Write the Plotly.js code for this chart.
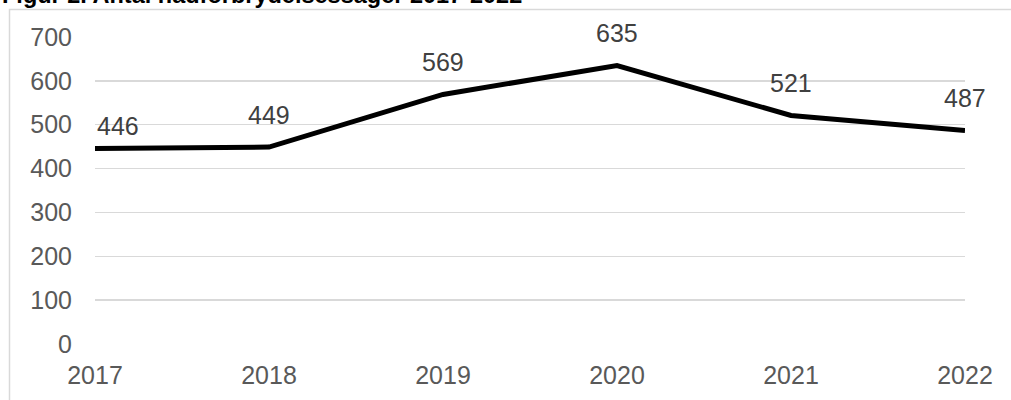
<!DOCTYPE html>
<html>
<head>
<meta charset="utf-8">
<script src="https://cdn.plot.ly/plotly-3.0.1.min.js"></script>
<style>
html, body { margin: 0; padding: 0; background: #fff; }
#chart { width: 1011px; height: 400px; }
</style>
</head>
<body>
<div id="chart"></div>
<script>
const years = [2017, 2018, 2019, 2020, 2021, 2022];
const cases = [446, 449, 569, 635, 521, 487];
const yTicks = [0, 100, 200, 300, 400, 500, 600, 700];
const titleText = "Figur 2. Antal hadforbrydelsessager 2017-2022";

const FONT = "Liberation Sans, Arial, sans-serif";

const trace = {
  x: years,
  y: cases,
  type: "scatter",
  mode: "lines",
  line: { color: "#000000", width: 5 },
  hoverinfo: "skip"
};

const annotations = years.map((yr, i) => ({
  x: yr,
  y: cases[i],
  xref: "x",
  yref: "y",
  text: String(cases[i]),
  showarrow: false,
  xanchor: i === 0 ? "left" : "center",
  yanchor: "middle",
  yshift: i === 0 ? 22 : 32.5,
  font: { family: FONT, size: 25, color: "#404040" }
}));

annotations.push({
  xref: "paper",
  yref: "paper",
  x: (1 - 95) / 870,
  y: (344 - 9) / 307,
  xanchor: "left",
  yanchor: "bottom",
  text: "<b>" + titleText + "</b>",
  showarrow: false,
  borderpad: 0,
  font: { family: FONT, size: 23.5, color: "#000000" }
});

const layout = {
  width: 1011,
  height: 400,
  margin: { l: 95, r: 46, t: 37, b: 56 },
  paper_bgcolor: "#ffffff",
  plot_bgcolor: "#ffffff",
  showlegend: false,
  xaxis: {
    type: "linear",
    range: [2017, 2022],
    tickvals: years,
    ticktext: years.map(String),
    showgrid: false,
    zeroline: false,
    showline: false,
    ticks: "",
    ticklabelstandoff: 14,
    tickfont: { family: FONT, size: 25, color: "#595959" }
  },
  yaxis: {
    range: [0, 700],
    tickvals: yTicks,
    showgrid: true,
    gridcolor: "#d9d9d9",
    gridwidth: 1.5,
    zeroline: false,
    showline: false,
    ticks: "",
    ticklabelstandoff: 22,
    tickfont: { family: FONT, size: 25, color: "#595959" }
  },
  shapes: [{
    type: "rect",
    xref: "paper",
    yref: "paper",
    x0: (9.5 - 95) / 870,
    x1: (1020 - 95) / 870,
    y0: (344 - 410) / 307,
    y1: (344 - 9.5) / 307,
    line: { color: "#d9d9d9", width: 1.5 },
    fillcolor: "rgba(0,0,0,0)",
    layer: "below"
  }],
  annotations: annotations
};

Plotly.newPlot("chart", [trace], layout, { displayModeBar: false, staticPlot: true });
</script>
</body>
</html>
